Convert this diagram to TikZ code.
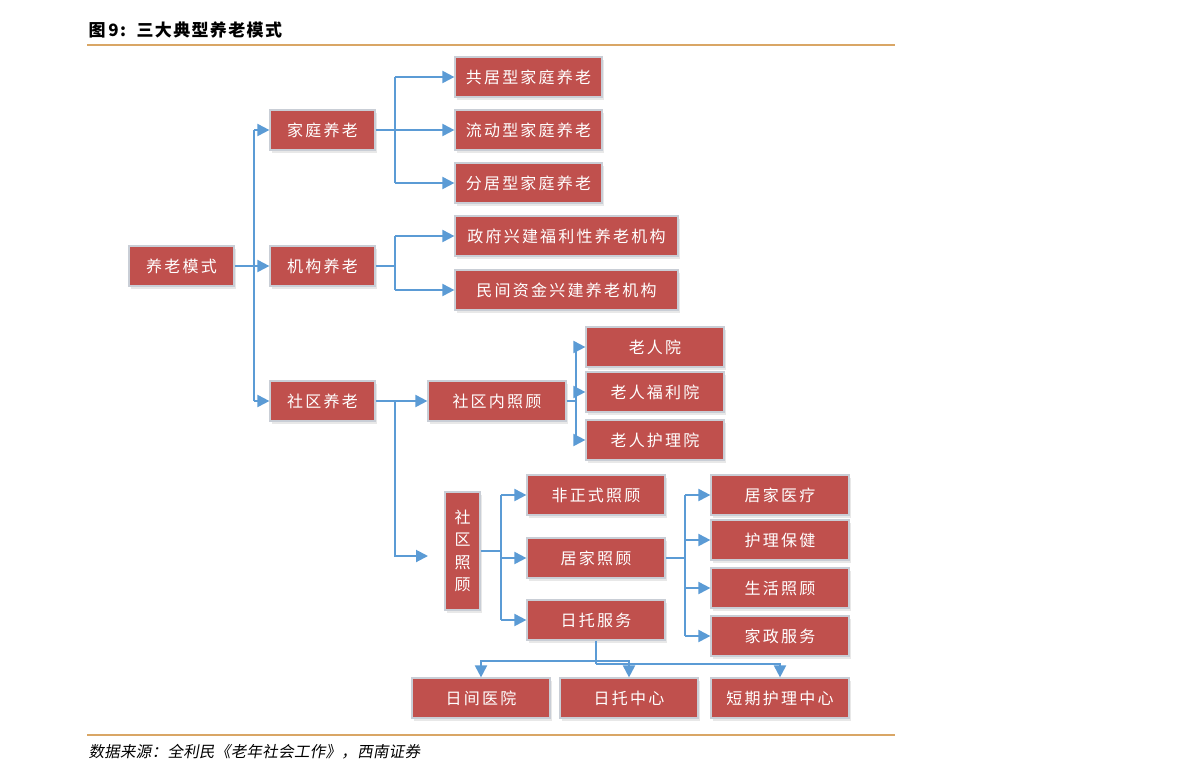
\documentclass[tikz,border=0pt]{standalone}
\usepackage{fontspec}
\setmainfont{Noto Sans CJK SC}
\newfontfamily\cjk[LetterSpace=14]{Noto Sans CJK SC}
\newfontfamily\cjktitle[LetterSpace=8]{Noto Sans CJK SC}
\newfontfamily\cjkfoot[FakeSlant=0.18,LetterSpace=2]{Noto Sans CJK SC}
\usetikzlibrary{arrows.meta,shadows}
\definecolor{boxred}{HTML}{C0504D}
\definecolor{boxedge}{HTML}{C9CED6}
\definecolor{arrblue}{HTML}{5B9BD5}
\definecolor{rulecol}{HTML}{D9A665}
\tikzset{
  box/.style={fill=boxred, draw=boxedge, line width=1.2pt, text=white, inner sep=0pt,
    minimum height=40pt, font=\cjk\fontsize{16}{19}\selectfont,
    drop shadow={opacity=0.18, shadow xshift=1.5pt, shadow yshift=-2.5pt}},
  ln/.style={draw=arrblue, line width=2pt},
  arr/.style={ln, -{Triangle[length=12pt,width=12pt]}},
}
\begin{document}
\begin{tikzpicture}[x=1pt,y=-1pt]
\useasboundingbox (0,0) rectangle (1191,782);
% title and rules
\node[anchor=west, font=\cjktitle\bfseries\fontsize{17}{20}\selectfont] (title) at (85,30) {图\,9:\ \ 三大典型养老模式};
\draw[rulecol, line width=1.2pt] (87,45) -- (895,45);
\draw[rulecol, line width=1.2pt] (87,735) -- (895,735);
\node[anchor=west, font=\cjkfoot\fontsize{15.5}{18}\selectfont] (foot) at (85,752) {数据来源：全利民《老年社会工作》，西南证券};
% boxes
\node[box, minimum width=105pt] (ym) at (181.5,266) {养老模式};
\node[box, minimum width=105pt] (jt) at (322.5,130) {家庭养老};
\node[box, minimum width=105pt] (jg) at (322.5,266) {机构养老};
\node[box, minimum width=105pt] (sq) at (322.5,401) {社区养老};
\node[box, minimum width=147pt] (a1) at (528.5,77) {共居型家庭养老};
\node[box, minimum width=147pt] (a2) at (528.5,130) {流动型家庭养老};
\node[box, minimum width=147pt] (a3) at (528.5,183) {分居型家庭养老};
\node[box, minimum width=223pt] (b1) at (566.5,236) {政府兴建福利性养老机构};
\node[box, minimum width=223pt] (b2) at (566.5,290) {民间资金兴建养老机构};
\node[box, minimum width=138pt] (sn) at (497,401) {社区内照顾};
\node[box, minimum width=138pt] (c1) at (655,347) {老人院};
\node[box, minimum width=138pt] (c2) at (655,392) {老人福利院};
\node[box, minimum width=138pt] (c3) at (655,440) {老人护理院};
\node[box, minimum width=35pt, minimum height=118pt, align=center, font=\cjk\fontsize{16}{22.5}\selectfont] (sz) at (462.5,551) {社\\区\\照\\顾};
\node[box, minimum width=138pt] (d1) at (596,495) {非正式照顾};
\node[box, minimum width=138pt] (d2) at (596,558) {居家照顾};
\node[box, minimum width=138pt] (d3) at (596,620) {日托服务};
\node[box, minimum width=138pt] (e1) at (780,495) {居家医疗};
\node[box, minimum width=138pt] (e2) at (780,540) {护理保健};
\node[box, minimum width=138pt] (e3) at (780,588) {生活照顾};
\node[box, minimum width=138pt] (e4) at (780,636) {家政服务};
\node[box, minimum width=138pt] (f1) at (481,698) {日间医院};
\node[box, minimum width=138pt] (f2) at (629,698) {日托中心};
\node[box, minimum width=138pt] (f3) at (780,698) {短期护理中心};
% connectors level 1
\draw[ln] (ym.east) -- (254,266);
\draw[ln] (254,130) -- (254,401);
\draw[arr] (254,130) -- (jt.west);
\draw[arr] (254,266) -- (jg.west);
\draw[arr] (254,401) -- (sq.west);
% family
\draw[ln] (jt.east) -- (395,130);
\draw[ln] (395,77) -- (395,183);
\draw[arr] (395,77) -- (a1.west);
\draw[arr] (395,130) -- (a2.west);
\draw[arr] (395,183) -- (a3.west);
% institution
\draw[ln] (jg.east) -- (395,266);
\draw[ln] (395,236) -- (395,290);
\draw[arr] (395,236) -- (b1.west);
\draw[arr] (395,290) -- (b2.west);
% community
\coordinate (szin) at (428,556);
\draw[arr] (sq.east) -- (sn.west);
\draw[arr] (395,401) |- (szin);
\draw[ln] (sn.east) -- (576,401);
\draw[ln] (576,347) -- (576,440);
\draw[arr] (576,347) -- (c1.west);
\draw[arr] (576,392) -- (c2.west);
\draw[arr] (576,440) -- (c3.west);
% community care
\draw[ln] (sz.east |- 0,551) -- (501,551);
\draw[ln] (501,495) -- (501,620);
\draw[arr] (501,495) -- (d1.west);
\draw[arr] (501,558) -- (d2.west);
\draw[arr] (501,620) -- (d3.west);
% home care
\draw[ln] (d2.east) -- (685,558);
\draw[ln] (685,495) -- (685,636);
\draw[arr] (685,495) -- (e1.west);
\draw[arr] (685,540) -- (e2.west);
\draw[arr] (685,588) -- (e3.west);
\draw[arr] (685,636) -- (e4.west);
% day care
\draw[ln] (d3.south) -- (596,664);
\draw[arr] (596,661) -| (f1.north);
\draw[arr] (596,661) -| (f2.north);
\draw[arr] (596,664) -| (f3.north);
\end{tikzpicture}
\end{document}
